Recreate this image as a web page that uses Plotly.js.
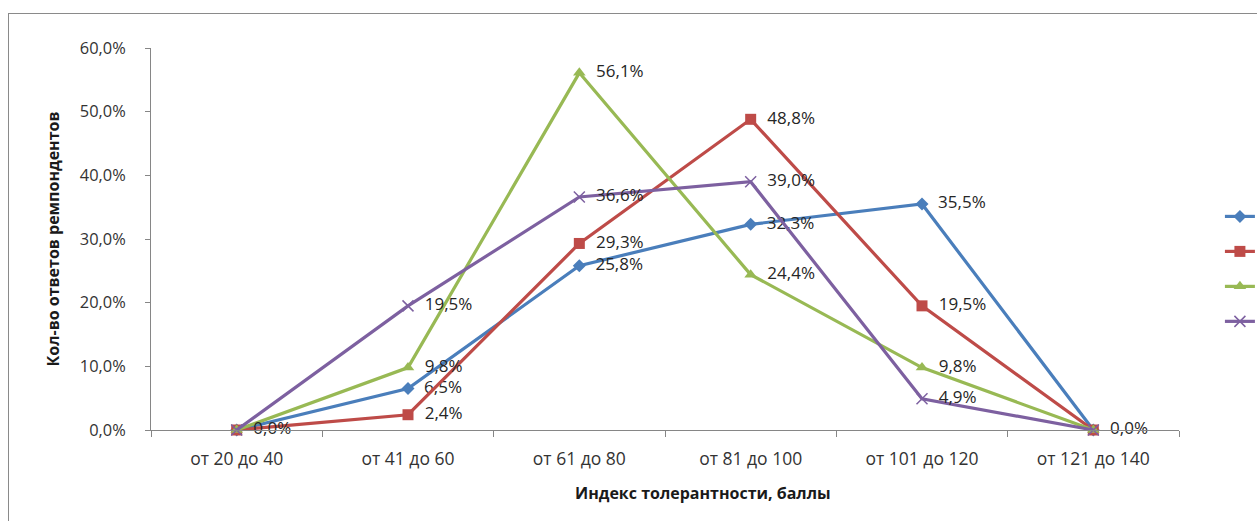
<!DOCTYPE html>
<html>
<head>
<meta charset="utf-8">
<script src="https://cdn.plot.ly/plotly-3.0.1.min.js"></script>
<style>
  html, body { margin: 0; padding: 0; background: #ffffff; overflow: hidden; }
  #frame { position: absolute; left: 8px; top: 13px; width: 1400px; height: 700px; border: 1.5px solid #8a8a8a; pointer-events: none; z-index: 5; }
  #chart { position: absolute; left: 0; top: 0; width: 1257px; height: 521px; }
</style>
</head>
<body>
<div id="chart"></div>
<div id="frame"></div>
<script>
// Categories (x axis)
const categories = ["от 20 до 40", "от 41 до 60", "от 61 до 80", "от 81 до 100", "от 101 до 120", "от 121 до 140"];

// Series names: the legend text lies outside the visible area of the reference, so none is shown
const seriesNames = ["", "", "", ""];

// Series values (fractions)
const series1 = [0.000, 0.065, 0.258, 0.323, 0.355, 0.000];
const series2 = [0.000, 0.024, 0.293, 0.488, 0.195, 0.000];
const series3 = [0.000, 0.098, 0.561, 0.244, 0.098, 0.000];
const series4 = [0.000, 0.195, 0.366, 0.390, 0.049, 0.000];

// Axis titles
const xTitle = "Индекс толерантности, баллы";
const yTitle = "Кол-во ответов ремпондентов";

const colors = ["#4A7EBB", "#BE4B48", "#98B954", "#7D60A0"];
const markers = [
  {symbol: "diamond", size: 10, color: colors[0]},
  {symbol: "square", size: 11, color: colors[1]},
  {symbol: "triangle-up", size: 11, color: colors[2]},
  {symbol: "x-thin-open", size: 11, color: colors[3], line: {color: colors[3], width: 1.5}}
];
const allSeries = [series1, series2, series3, series4];
const labelTpl = "\u00a0\u00a0%{y:.1%}";

const traces = allSeries.map((vals, i) => ({
  type: "scatter",
  mode: "lines+markers+text",
  x: categories,
  y: vals,
  name: seriesNames[i],
  showlegend: true,
  line: {color: colors[i], width: 3.2},
  marker: markers[i],
  // identical overlapping zero labels are drawn only once (by the last series)
  texttemplate: vals.map(v => (v === 0 && i < allSeries.length - 1) ? "" : labelTpl),
  textposition: "middle right",
  textfont: {family: "Open Sans, sans-serif", size: 17, color: "#262626"},
  cliponaxis: false,
  hoverinfo: "x+y"
}));

const layout = {
  width: 1257,
  height: 521,
  margin: {l: 151, r: 78, t: 48, b: 91, autoexpand: false},
  paper_bgcolor: "#ffffff",
  plot_bgcolor: "#ffffff",
  separators: ",.",
  font: {family: "Open Sans, sans-serif", size: 16, color: "#262626"},
  showlegend: true,
  legend: {
    x: 1.0398, xanchor: "left",
    y: 0.618, yanchor: "top",
    font: {size: 24.6, color: "#262626"},
    bgcolor: "rgba(0,0,0,0)",
    borderwidth: 0
  },
  xaxis: {
    type: "category",
    range: [-0.5, 5.5],
    showline: true,
    linecolor: "#868686",
    linewidth: 1,
    ticks: "outside",
    tickson: "boundaries",
    ticklen: 6,
    tickcolor: "#868686",
    showgrid: false,
    zeroline: false,
    ticklabelstandoff: 13,
    tickfont: {size: 17.5, color: "#333333"}
  },
  yaxis: {
    range: [0, 0.6],
    tickvals: [0, 0.1, 0.2, 0.3, 0.4, 0.5, 0.6],
    tickformat: ".1%",
    showline: true,
    linecolor: "#868686",
    linewidth: 1,
    ticks: "outside",
    ticklen: 5,
    tickcolor: "#868686",
    showgrid: false,
    zeroline: false,
    ticklabelstandoff: 16,
    tickfont: {size: 16.4, color: "#333333"},
    title: {text: yTitle, font: {size: 16, color: "#1a1a1a", family: "Open Sans, sans-serif", weight: "bold"}, standoff: 16}
  },
  annotations: [{
    text: xTitle,
    xref: "paper", yref: "paper",
    x: 0.537, y: -0.165,
    xanchor: "center", yanchor: "middle",
    showarrow: false,
    font: {size: 16, color: "#1a1a1a", family: "Open Sans, sans-serif", weight: "bold"}
  }]
};

Plotly.newPlot("chart", traces, layout, {displayModeBar: false, staticPlot: true});
</script>
</body>
</html>
